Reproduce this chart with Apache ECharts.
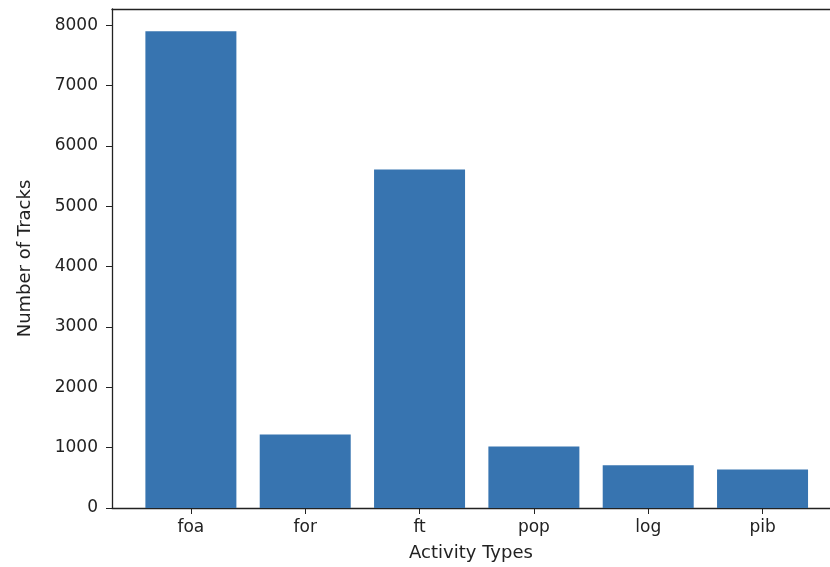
<!DOCTYPE html>
<html>
<head>
<meta charset="utf-8">
<script src="https://cdn.jsdelivr.net/npm/echarts@6/dist/echarts.min.js"></script>
<style>
  html, body { margin: 0; padding: 0; background: #fff; }
  #chart { width: 830px; height: 567px; }
</style>
</head>
<body>
<div id="chart"></div>
<script>
const categories = ['foa', 'for', 'ft', 'pop', 'log', 'pib'];
const trackCounts = [7900, 1220, 5610, 1020, 710, 640];
const yTicks = [0, 1000, 2000, 3000, 4000, 5000, 6000, 7000, 8000];
const xTicks = categories.map((c, i) => i);

const chart = echarts.init(document.getElementById('chart'));
const font = 'DejaVu Sans';
const spine = { show: true, onZero: false, lineStyle: { color: '#222', width: 1.3 } };
chart.setOption({
  backgroundColor: '#fff',
  animation: false,
  // the picture is cropped, so no right spine shows
  grid: { left: 112, right: 0, top: 9, bottom: 58 },
  xAxis: [{
    type: 'value',
    min: -0.69,
    max: 5.59,
    name: 'Activity Types',
    nameLocation: 'middle',
    nameGap: 36,
    nameTextStyle: { fontFamily: font, fontSize: 18, color: '#222' },
    axisLine: spine,
    axisTick: { show: true, length: 6, customValues: xTicks, lineStyle: { color: '#222' } },
    axisLabel: {
      customValues: xTicks, margin: 11, fontFamily: font, fontSize: 17, color: '#222',
      formatter: v => categories[v]
    },
    splitLine: { show: false }
  }, {
    // top spine only
    type: 'value',
    position: 'top',
    min: -0.69,
    max: 5.59,
    axisLine: spine,
    axisTick: { show: false },
    axisLabel: { show: false },
    splitLine: { show: false }
  }],
  yAxis: {
    type: 'value',
    min: 0,
    max: 8270,
    name: 'Number of Tracks',
    nameLocation: 'middle',
    nameGap: 78,
    nameTextStyle: { fontFamily: font, fontSize: 18, color: '#222' },
    axisLine: spine,
    axisTick: { show: true, length: 6, customValues: yTicks, lineStyle: { color: '#222' } },
    axisLabel: {
      customValues: yTicks, margin: 14, fontFamily: font, fontSize: 17, color: '#222',
      formatter: v => String(v)
    },
    splitLine: { show: false }
  },
  series: [{
    type: 'bar',
    xAxisIndex: 0,
    data: categories.map((c, i) => [i, trackCounts[i]]),
    barWidth: 91,
    itemStyle: { color: '#3774b0' }
  }]
});
</script>
</body>
</html>
